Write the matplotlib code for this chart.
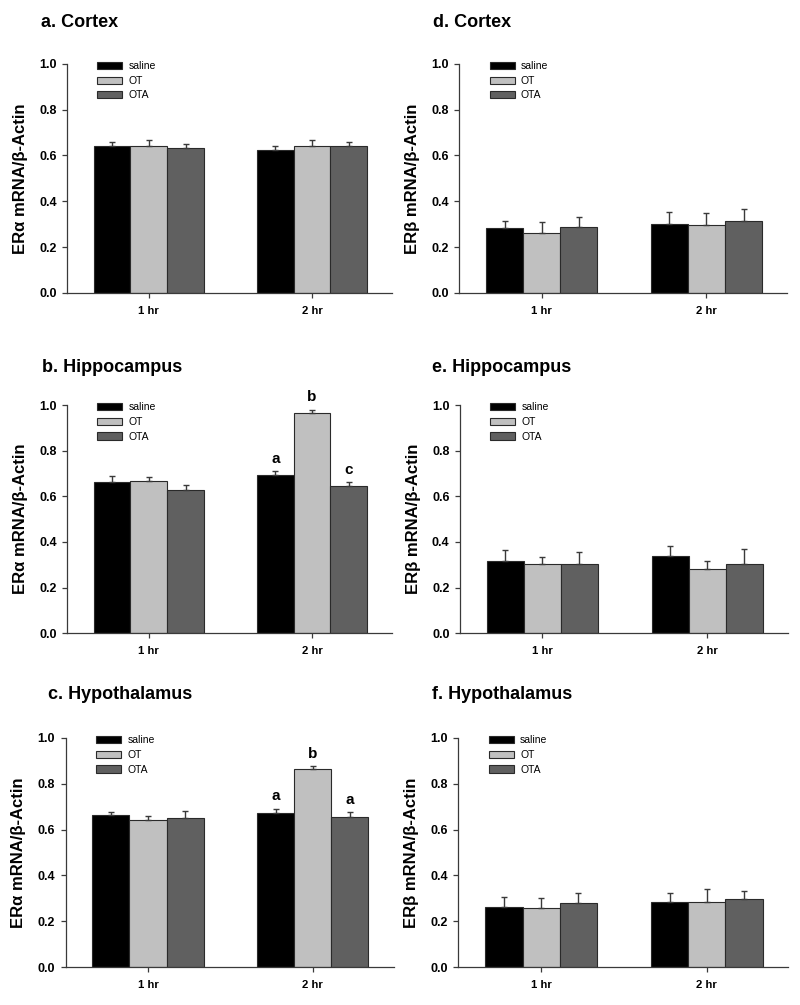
import numpy as np
import matplotlib
matplotlib.use("Agg")
import matplotlib.pyplot as plt

plt.rcParams['font.family'] = ['Liberation Sans', 'DejaVu Sans']

groups = ['1 hr', '2 hr']
treatments = ['saline', 'OT', 'OTA']
colors = ['#000000', '#c0c0c0', '#606060']

# means[treatment][group], upper error (SEM) as top of bar + err
a_mean = [[0.643, 0.622], [0.643, 0.643], [0.634, 0.643]]
a_err = [[0.017, 0.021], [0.025, 0.025], [0.018, 0.016]]
b_mean = [[0.664, 0.695], [0.669, 0.965], [0.628, 0.644]]
b_err = [[0.025, 0.014], [0.017, 0.013], [0.020, 0.017]]
c_mean = [[0.662, 0.671], [0.640, 0.865], [0.652, 0.655]]
c_err = [[0.015, 0.020], [0.019, 0.011], [0.028, 0.020]]
d_mean = [[0.283, 0.299], [0.263, 0.295], [0.290, 0.315]]
d_err = [[0.032, 0.054], [0.045, 0.055], [0.042, 0.052]]
e_mean = [[0.318, 0.339], [0.302, 0.280], [0.305, 0.301]]
e_err = [[0.046, 0.041], [0.032, 0.038], [0.050, 0.067]]
f_mean = [[0.261, 0.285], [0.258, 0.285], [0.280, 0.298]]
f_err = [[0.044, 0.038], [0.043, 0.054], [0.043, 0.033]]

b_letters = [None, ['a', 'b', 'c']]
c_letters = [None, ['a', 'b', 'a']]

alpha_label = 'ER\u03b1 mRNA/\u03b2-Actin'
beta_label = 'ER\u03b2 mRNA/\u03b2-Actin'

panels = [
    # title, means, errs, ylabel, letters, axes rect, title pos
    ('a. Cortex', a_mean, a_err, alpha_label, None, [0.084, 0.7085, 0.406, 0.228], (0.051, 0.978)),
    ('b. Hippocampus', b_mean, b_err, alpha_label, b_letters, [0.084, 0.370, 0.406, 0.227], (0.052, 0.634)),
    ('c. Hypothalamus', c_mean, c_err, alpha_label, c_letters, [0.082, 0.0378, 0.410, 0.228], (0.060, 0.309)),
    ('d. Cortex', d_mean, d_err, beta_label, None, [0.574, 0.7085, 0.410, 0.228], (0.541, 0.978)),
    ('e. Hippocampus', e_mean, e_err, beta_label, None, [0.575, 0.370, 0.410, 0.227], (0.540, 0.634)),
    ('f. Hypothalamus', f_mean, f_err, beta_label, None, [0.573, 0.0378, 0.412, 0.228], (0.540, 0.309)),
]

fig = plt.figure(figsize=(8, 10.05), dpi=100)
x = np.arange(len(groups))
w = 0.225

for title, means, errs, ylab, letters, rect, tpos in panels:
    ax = fig.add_axes(rect)
    for i, t in enumerate(treatments):
        pos = x + (i - 1) * w
        m = np.array(means[i])
        e = np.array(errs[i])
        ax.bar(pos, m, w, color=colors[i], edgecolor='#2a2a2a', linewidth=0.8,
               label=t, zorder=2)
        ax.errorbar(pos, m, yerr=[np.zeros_like(e), e], fmt='none',
                    ecolor='#3a3a3a', elinewidth=1.0, capsize=2.5, capthick=1.0, zorder=3)
        if letters is not None:
            for g in range(len(groups)):
                if letters[g] is not None:
                    ax.text(pos[g], m[g] + e[g] + 0.025, letters[g][i], ha='center',
                            va='bottom', fontsize=11, fontweight='bold', clip_on=False)
    ax.set_xlim(-0.5, 1.49)
    ax.set_ylim(0, 1.0)
    ax.set_yticks(np.arange(0, 1.01, 0.2))
    ax.set_yticklabels(['%.1f' % v for v in np.arange(0, 1.01, 0.2)])
    ax.set_xticks(x)
    ax.set_xticklabels(groups)
    for lab in ax.get_yticklabels():
        lab.set_fontweight('bold')
        lab.set_fontsize(9)
    for lab in ax.get_xticklabels():
        lab.set_fontweight('bold')
        lab.set_fontsize(8.2)
    ax.tick_params(direction='out', length=3.5, width=0.9, color='#3a3a3a', pad=4)
    ax.tick_params(axis='x', pad=6)
    for s in ['top', 'right']:
        ax.spines[s].set_visible(False)
    for s in ['left', 'bottom']:
        ax.spines[s].set_color('#3a3a3a')
        ax.spines[s].set_linewidth(0.9)
    ax.set_ylabel(ylab, fontsize=12, fontweight='bold', labelpad=8)
    ax.legend(loc='upper left', bbox_to_anchor=(0.08, 1.03), frameon=False,
              fontsize=7.5, handlelength=2.4, handleheight=0.7,
              labelspacing=0.45, handletextpad=0.6, borderaxespad=0)
    fig.text(tpos[0], tpos[1], title, fontsize=13, fontweight='bold',
             ha='left', va='center')

fig.savefig('out.png', dpi=100)
